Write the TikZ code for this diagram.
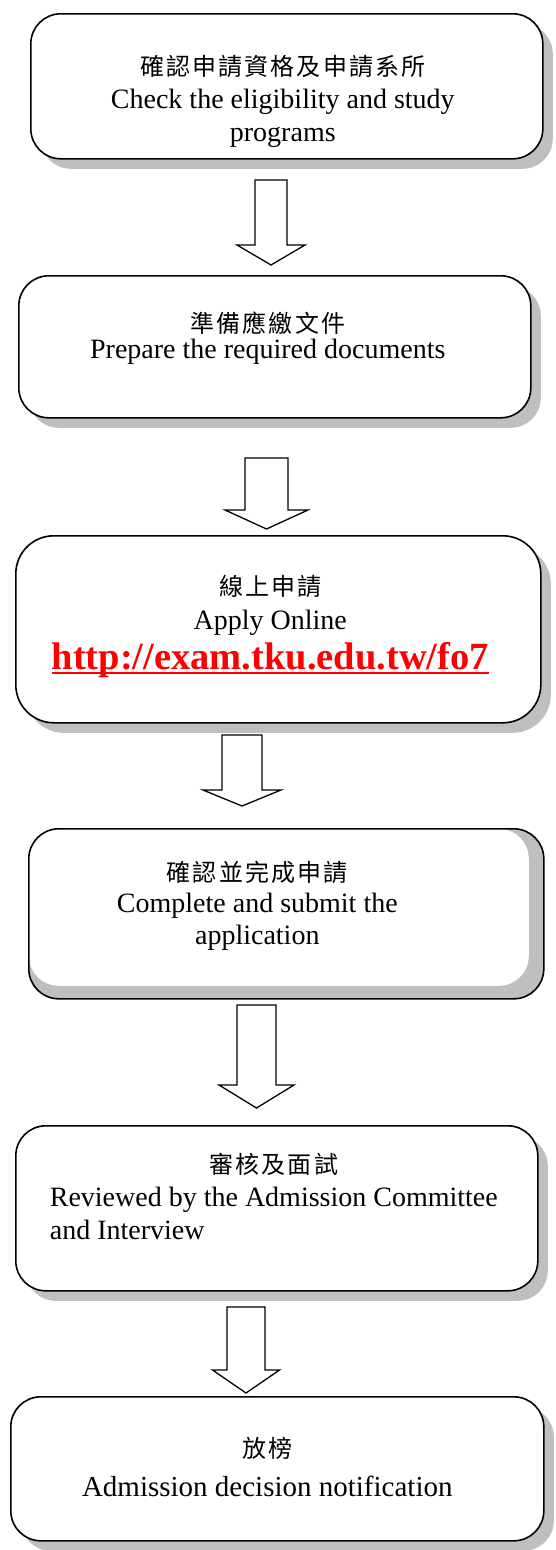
\documentclass[tikz,border=0pt]{standalone}
\usepackage{fontspec}
\setmainfont{Liberation Serif}
\newfontfamily\cjk[LetterSpace=9]{Noto Sans CJK TC}
\usepackage{tikz}
\usetikzlibrary{shapes,arrows,shadows,positioning}
\definecolor{shadowgray}{RGB}{191,191,191}
\definecolor{linkred}{RGB}{255,0,0}
\tikzstyle{box} = [rectangle, draw, line width=1.6pt, fill=white,
    rounded corners=30pt, inner sep=0pt,
    drop shadow={shadow xshift=10pt, shadow yshift=-10pt, fill=shadowgray, opacity=1}]
\tikzstyle{txt} = [align=center, inner sep=0pt, font=\fontsize{28}{33}\selectfont]
\tikzstyle{fatarrow} = [draw, line width=1.3pt, fill=white, line join=miter]
\newcommand{\zh}[1]{{\cjk\fontsize{24}{33}\selectfont #1}}
\newcommand{\linkline}[1]{\setbox0\hbox{#1}\rlap{\rule[-4pt]{\wd0}{2pt}}\box0}

\begin{document}
\begin{tikzpicture}[x=1pt, y=-1pt]
    \useasboundingbox (0,0) rectangle (556,1550);
    % the six steps
    \node[box, anchor=north west, minimum width=512pt, minimum height=145pt] (check) at (30,13) {};
    \node[box, anchor=north west, minimum width=512pt, minimum height=142pt] (prepare) at (18,275) {};
    \node[box, anchor=north west, minimum width=525pt, minimum height=187pt, rounded corners=38pt] (apply) at (15,535) {};
    \node[rectangle, draw, line width=1.6pt, fill=shadowgray, rounded corners=30pt,
        anchor=north west, minimum width=515pt, minimum height=170pt,
        path picture={\fill[white, rounded corners=30pt] (path picture bounding box.north west)
            rectangle ([xshift=-15pt, yshift=13pt]path picture bounding box.south east);}]
        (submit) at (28,828) {};
    \node[box, anchor=north west, minimum width=522pt, minimum height=165pt] (review) at (15,1125) {};
    \node[box, anchor=north west, minimum width=533pt, minimum height=144pt] (notify) at (10,1396) {};

    % texts
    \node[txt, below=42.5pt of check.north, xshift=-4pt] (checktxt)
        {\zh{確認申請資格及申請系所}\\ Check the eligibility and study\\ programs};
    \node[txt, below=37pt of prepare.north, xshift=-7pt] (preparetxt)
        {\zh{準備應繳文件}\\[-7pt] Prepare the required documents};
    \node[txt, below=40pt of apply.north, xshift=-8pt] (applytxt)
        {\zh{線上申請}\\[1pt] Apply Online\\[6pt]
         {\color{linkred}\fontsize{38.5}{39}\selectfont\bfseries\linkline{http://exam.tku.edu.tw/fo7}}};
    \node[txt, below=32.5pt of submit.north, xshift=-29pt] (submittxt)
        {\zh{確認並完成申請}\\[-2pt] Complete and submit the\\[-1pt] application};
    \node[txt, below=28.5pt of review.north, xshift=-3pt] (reviewtxt)
        {\zh{審核及面試}\\[0pt] \begin{tabular}[t]{@{}l@{}}Reviewed by the Admission Committee\\ and Interview\end{tabular}};
    \node[txt, below=40.5pt of notify.north, xshift=-10pt, font=\fontsize{29}{33}\selectfont] (notifytxt)
        {\zh{放榜}\\[6pt] Admission decision notification};

    % block arrows between the steps
    \foreach \cx/\hw/\ya/\yb/\yc/\hh in {271/16/180/245/265/34, 266.5/21.5/458/510/529/41.5,
        242/20/735/790/806/39, 256.5/19.5/1005/1085/1108/37.5, 246/19/1307/1370/1393/33.5}
        \draw[fatarrow] (\cx-\hw,\ya) -- (\cx+\hw,\ya) -- (\cx+\hw,\yb) -- (\cx+\hh,\yb)
            -- (\cx,\yc) -- (\cx-\hh,\yb) -- (\cx-\hw,\yb) -- cycle;
\end{tikzpicture}
\end{document}
